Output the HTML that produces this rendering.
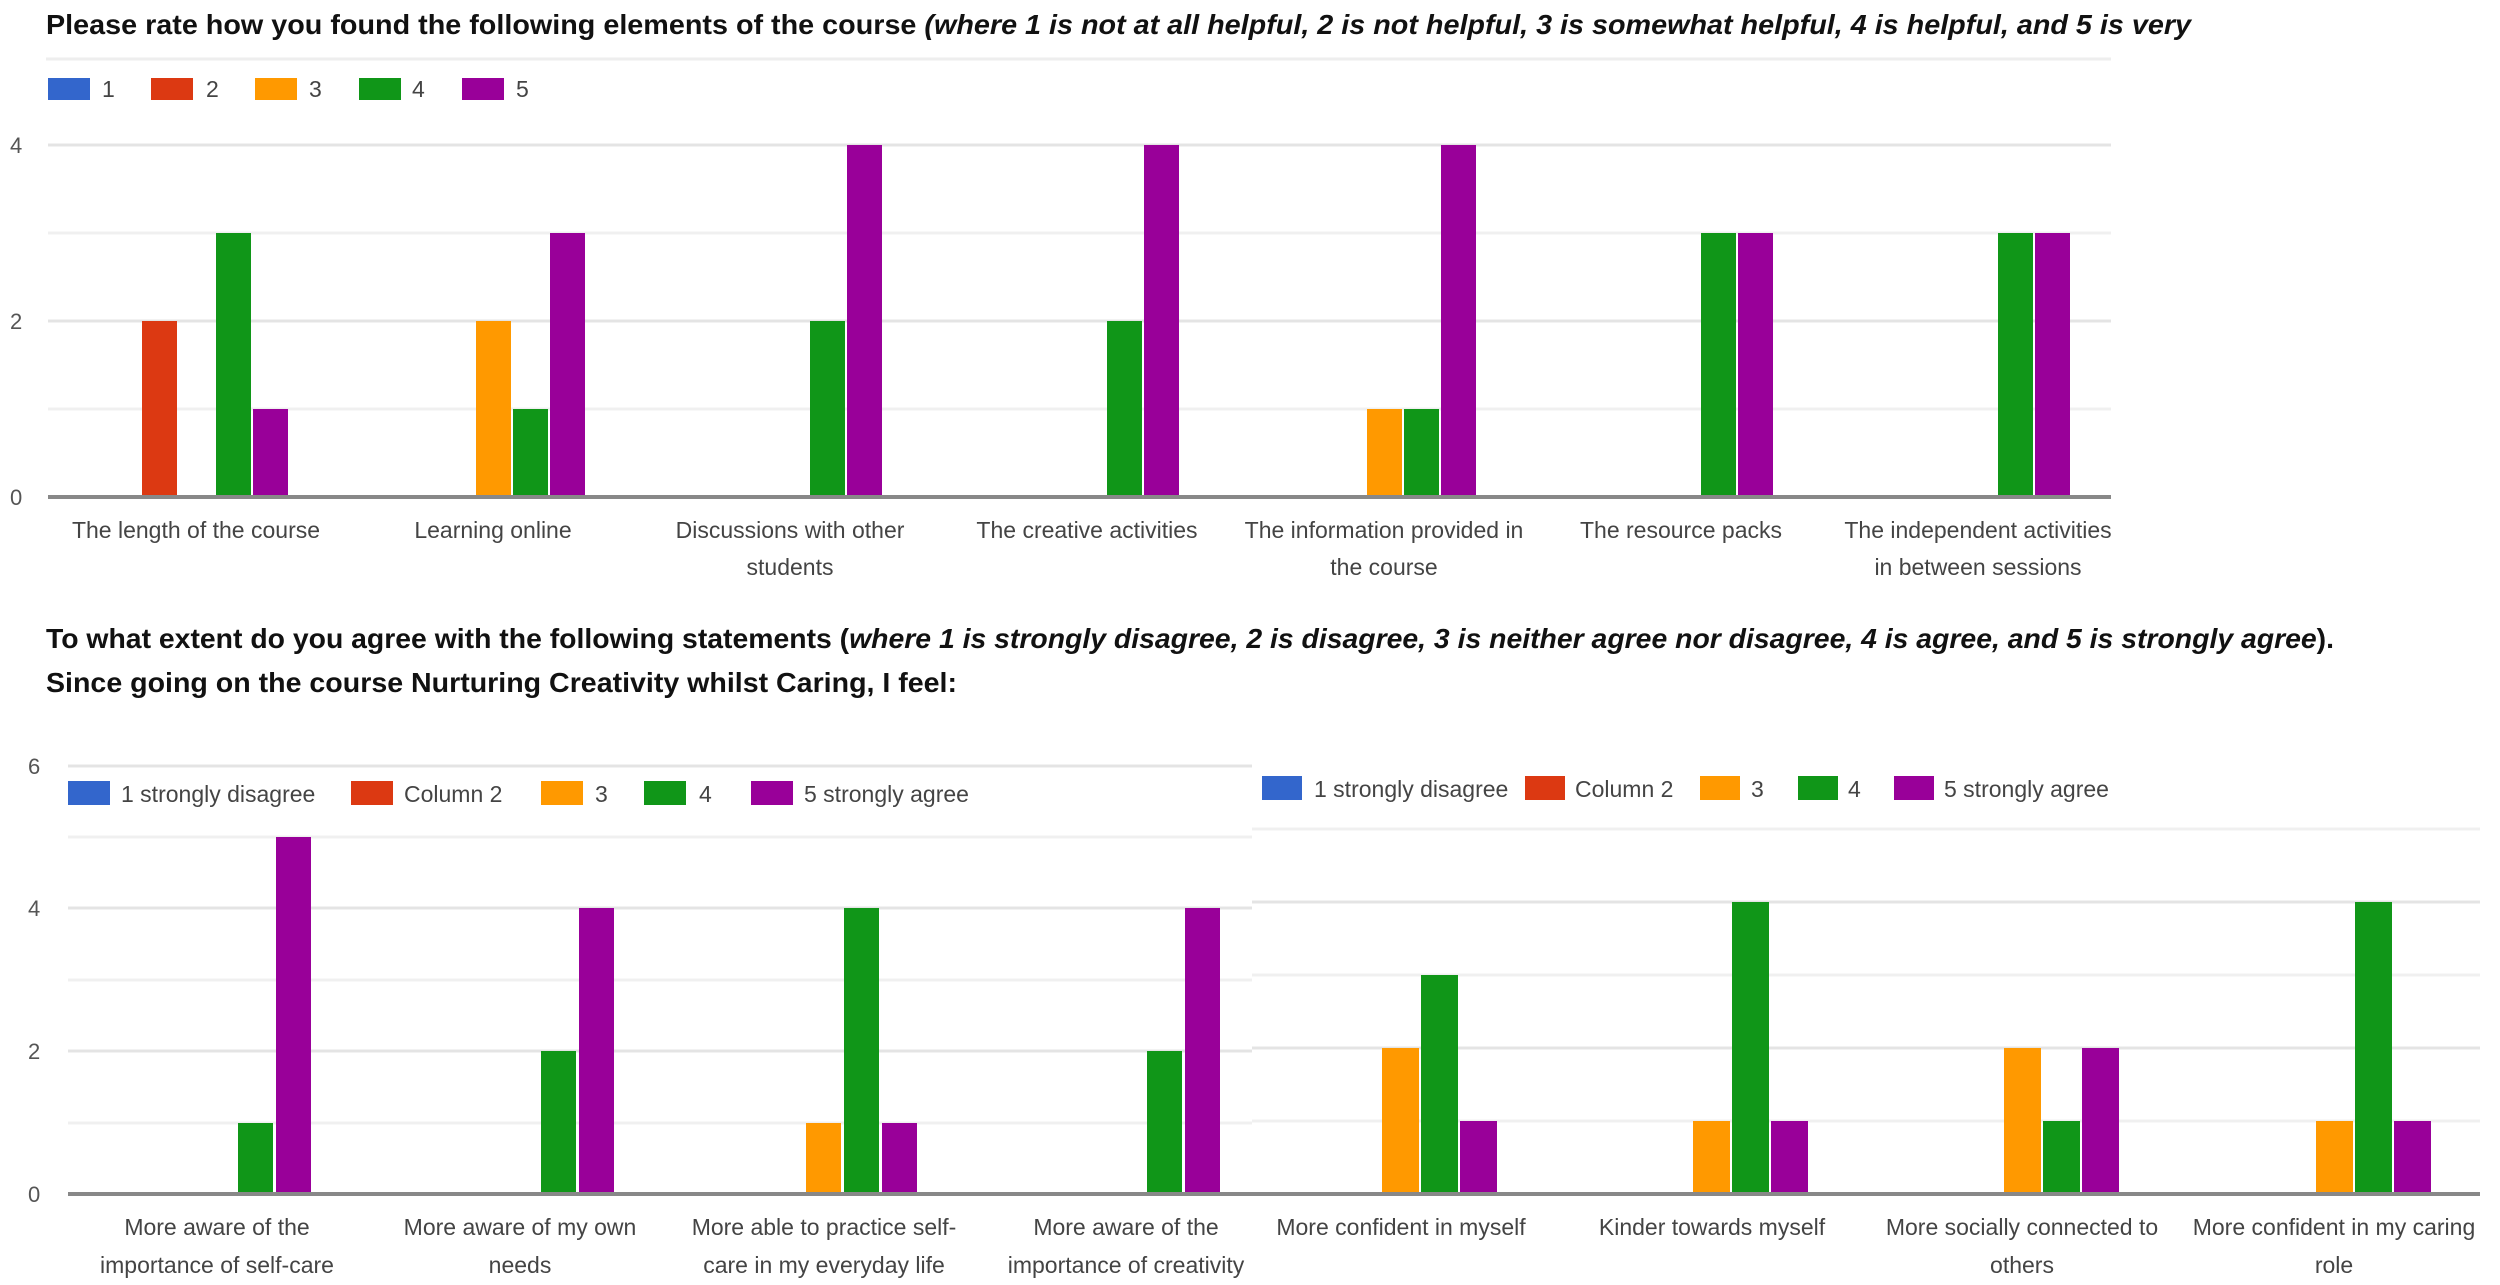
<!DOCTYPE html>
<html><head><meta charset="utf-8"><style>
html,body{margin:0;padding:0;background:#fff;}
svg{display:block;}
text{font-family:"Liberation Sans",sans-serif;}
.t{font-weight:bold;font-size:28px;fill:#111;}
.ax{font-size:22px;fill:#555;}
.lb{font-size:23px;fill:#444;text-anchor:middle;}
.lg{font-size:23px;fill:#444;}
</style></head><body>
<svg width="2500" height="1285" viewBox="0 0 2500 1285" xmlns="http://www.w3.org/2000/svg">
<rect width="2500" height="1285" fill="#fff"/>
<!-- Top title -->
<text class="t" x="46" y="34" textLength="2145" lengthAdjust="spacingAndGlyphs">Please rate how you found the following elements of the course <tspan font-style="italic">(where 1 is not at all helpful, 2 is not helpful, 3 is somewhat helpful, 4 is helpful, and 5 is very</tspan></text>
<line x1="46" y1="59" x2="2111" y2="59" stroke="#eee" stroke-width="3"/>
<!-- top legend -->
<rect x="48" y="78" width="42" height="22" fill="#3366cc"/><text class="lg" x="102" y="97">1</text>
<rect x="151" y="78" width="42" height="22" fill="#dc3912"/><text class="lg" x="206" y="97">2</text>
<rect x="255" y="78" width="42" height="22" fill="#ff9900"/><text class="lg" x="309" y="97">3</text>
<rect x="359" y="78" width="42" height="22" fill="#109618"/><text class="lg" x="412" y="97">4</text>
<rect x="462" y="78" width="42" height="22" fill="#990099"/><text class="lg" x="516" y="97">5</text>
<!-- top grid -->
<g stroke="#e4e4e4" stroke-width="3">
<line x1="48" y1="145" x2="2111" y2="145"/>
<line x1="48" y1="233" x2="2111" y2="233" stroke="#f0f0f0"/>
<line x1="48" y1="321" x2="2111" y2="321"/>
<line x1="48" y1="409" x2="2111" y2="409" stroke="#f0f0f0"/>
</g>
<text class="ax" x="10" y="153">4</text>
<text class="ax" x="10" y="329">2</text>
<text class="ax" x="10" y="505">0</text>
<!-- top bars: orange_k = 179+297k, step 37, width 35, unit 88, base 497 -->
<g>
<!-- g0 -->
<rect x="142" y="321" width="35" height="176" fill="#dc3912"/>
<rect x="216" y="233" width="35" height="264" fill="#109618"/>
<rect x="253" y="409" width="35" height="88" fill="#990099"/>
<!-- g1 -->
<rect x="476" y="321" width="35" height="176" fill="#ff9900"/>
<rect x="513" y="409" width="35" height="88" fill="#109618"/>
<rect x="550" y="233" width="35" height="264" fill="#990099"/>
<!-- g2 -->
<rect x="810" y="321" width="35" height="176" fill="#109618"/>
<rect x="847" y="145" width="35" height="352" fill="#990099"/>
<!-- g3 -->
<rect x="1107" y="321" width="35" height="176" fill="#109618"/>
<rect x="1144" y="145" width="35" height="352" fill="#990099"/>
<!-- g4 -->
<rect x="1367" y="409" width="35" height="88" fill="#ff9900"/>
<rect x="1404" y="409" width="35" height="88" fill="#109618"/>
<rect x="1441" y="145" width="35" height="352" fill="#990099"/>
<!-- g5 -->
<rect x="1701" y="233" width="35" height="264" fill="#109618"/>
<rect x="1738" y="233" width="35" height="264" fill="#990099"/>
<!-- g6 -->
<rect x="1998" y="233" width="35" height="264" fill="#109618"/>
<rect x="2035" y="233" width="35" height="264" fill="#990099"/>
</g>
<line x1="48" y1="497" x2="2111" y2="497" stroke="#888" stroke-width="4"/>
<text class="lb" x="196" y="538">The length of the course</text>
<text class="lb" x="493" y="538">Learning online</text>
<text class="lb" x="790" y="538">Discussions with other</text>
<text class="lb" x="790" y="575">students</text>
<text class="lb" x="1087" y="538">The creative activities</text>
<text class="lb" x="1384" y="538">The information provided in</text>
<text class="lb" x="1384" y="575">the course</text>
<text class="lb" x="1681" y="538">The resource packs</text>
<text class="lb" x="1978" y="538">The independent activities</text>
<text class="lb" x="1978" y="575">in between sessions</text>

<!-- second title -->
<text class="t" x="46" y="648" textLength="2288" lengthAdjust="spacingAndGlyphs">To what extent do you agree with the following statements (<tspan font-style="italic">where 1 is strongly disagree, 2 is disagree, 3 is neither agree nor disagree, 4 is agree, and 5 is strongly agree</tspan>).</text>
<text class="t" x="46" y="692" textLength="911" lengthAdjust="spacingAndGlyphs">Since going on the course Nurturing Creativity whilst Caring, I feel:</text>

<!-- bottom left chart: base 1194, unit 71.5 -->
<g stroke="#e4e4e4" stroke-width="3">
<line x1="68" y1="766" x2="1252" y2="766"/>
<line x1="68" y1="837" x2="1252" y2="837" stroke="#f0f0f0"/>
<line x1="68" y1="908" x2="1252" y2="908"/>
<line x1="68" y1="980" x2="1252" y2="980" stroke="#f0f0f0"/>
<line x1="68" y1="1051" x2="1252" y2="1051"/>
<line x1="68" y1="1123" x2="1252" y2="1123" stroke="#f0f0f0"/>
</g>
<text class="ax" x="28" y="774">6</text>
<text class="ax" x="28" y="916">4</text>
<text class="ax" x="28" y="1059">2</text>
<text class="ax" x="28" y="1202">0</text>
<rect x="68" y="781" width="42" height="24" fill="#3366cc"/><text class="lg" x="121" y="802">1 strongly disagree</text>
<rect x="351" y="781" width="42" height="24" fill="#dc3912"/><text class="lg" x="404" y="802">Column 2</text>
<rect x="541" y="781" width="42" height="24" fill="#ff9900"/><text class="lg" x="595" y="802">3</text>
<rect x="644" y="781" width="42" height="24" fill="#109618"/><text class="lg" x="699" y="802">4</text>
<rect x="751" y="781" width="42" height="24" fill="#990099"/><text class="lg" x="804" y="802">5 strongly agree</text>
<rect x="238" y="1123" width="35" height="71" fill="#109618"/>
<rect x="276" y="837" width="35" height="357" fill="#990099"/>
<rect x="541" y="1051" width="35" height="143" fill="#109618"/>
<rect x="579" y="908" width="35" height="286" fill="#990099"/>
<rect x="806" y="1123" width="35" height="71" fill="#ff9900"/>
<rect x="844" y="908" width="35" height="286" fill="#109618"/>
<rect x="882" y="1123" width="35" height="71" fill="#990099"/>
<rect x="1147" y="1051" width="35" height="143" fill="#109618"/>
<rect x="1185" y="908" width="35" height="286" fill="#990099"/>
<line x1="68" y1="1194" x2="1252" y2="1194" stroke="#888" stroke-width="4"/>
<text class="lb" x="217" y="1235">More aware of the</text>
<text class="lb" x="217" y="1273">importance of self-care</text>
<text class="lb" x="520" y="1235">More aware of my own</text>
<text class="lb" x="520" y="1273">needs</text>
<text class="lb" x="824" y="1235">More able to practice self-</text>
<text class="lb" x="824" y="1273">care in my everyday life</text>
<text class="lb" x="1126" y="1235">More aware of the</text>
<text class="lb" x="1126" y="1273">importance of creativity</text>

<!-- bottom right chart -->
<g stroke="#e4e4e4" stroke-width="3">
<line x1="1252" y1="829" x2="2480" y2="829" stroke="#f0f0f0"/>
<line x1="1252" y1="902" x2="2480" y2="902"/>
<line x1="1252" y1="975" x2="2480" y2="975" stroke="#f0f0f0"/>
<line x1="1252" y1="1048" x2="2480" y2="1048"/>
<line x1="1252" y1="1121" x2="2480" y2="1121" stroke="#f0f0f0"/>
</g>
<rect x="1262" y="776" width="40" height="24" fill="#3366cc"/><text class="lg" x="1314" y="797">1 strongly disagree</text>
<rect x="1525" y="776" width="40" height="24" fill="#dc3912"/><text class="lg" x="1575" y="797">Column 2</text>
<rect x="1700" y="776" width="40" height="24" fill="#ff9900"/><text class="lg" x="1751" y="797">3</text>
<rect x="1798" y="776" width="40" height="24" fill="#109618"/><text class="lg" x="1848" y="797">4</text>
<rect x="1894" y="776" width="40" height="24" fill="#990099"/><text class="lg" x="1944" y="797">5 strongly agree</text>
<rect x="1382" y="1048" width="37" height="146" fill="#ff9900"/>
<rect x="1421" y="975" width="37" height="219" fill="#109618"/>
<rect x="1460" y="1121" width="37" height="73" fill="#990099"/>
<rect x="1693" y="1121" width="37" height="73" fill="#ff9900"/>
<rect x="1732" y="902" width="37" height="292" fill="#109618"/>
<rect x="1771" y="1121" width="37" height="73" fill="#990099"/>
<rect x="2004" y="1048" width="37" height="146" fill="#ff9900"/>
<rect x="2043" y="1121" width="37" height="73" fill="#109618"/>
<rect x="2082" y="1048" width="37" height="146" fill="#990099"/>
<rect x="2316" y="1121" width="37" height="73" fill="#ff9900"/>
<rect x="2355" y="902" width="37" height="292" fill="#109618"/>
<rect x="2394" y="1121" width="37" height="73" fill="#990099"/>
<line x1="1252" y1="1194" x2="2480" y2="1194" stroke="#888" stroke-width="4"/>
<text class="lb" x="1401" y="1235">More confident in myself</text>
<text class="lb" x="1712" y="1235">Kinder towards myself</text>
<text class="lb" x="2022" y="1235">More socially connected to</text>
<text class="lb" x="2022" y="1273">others</text>
<text class="lb" x="2334" y="1235">More confident in my caring</text>
<text class="lb" x="2334" y="1273">role</text>
</svg>
</body></html>
